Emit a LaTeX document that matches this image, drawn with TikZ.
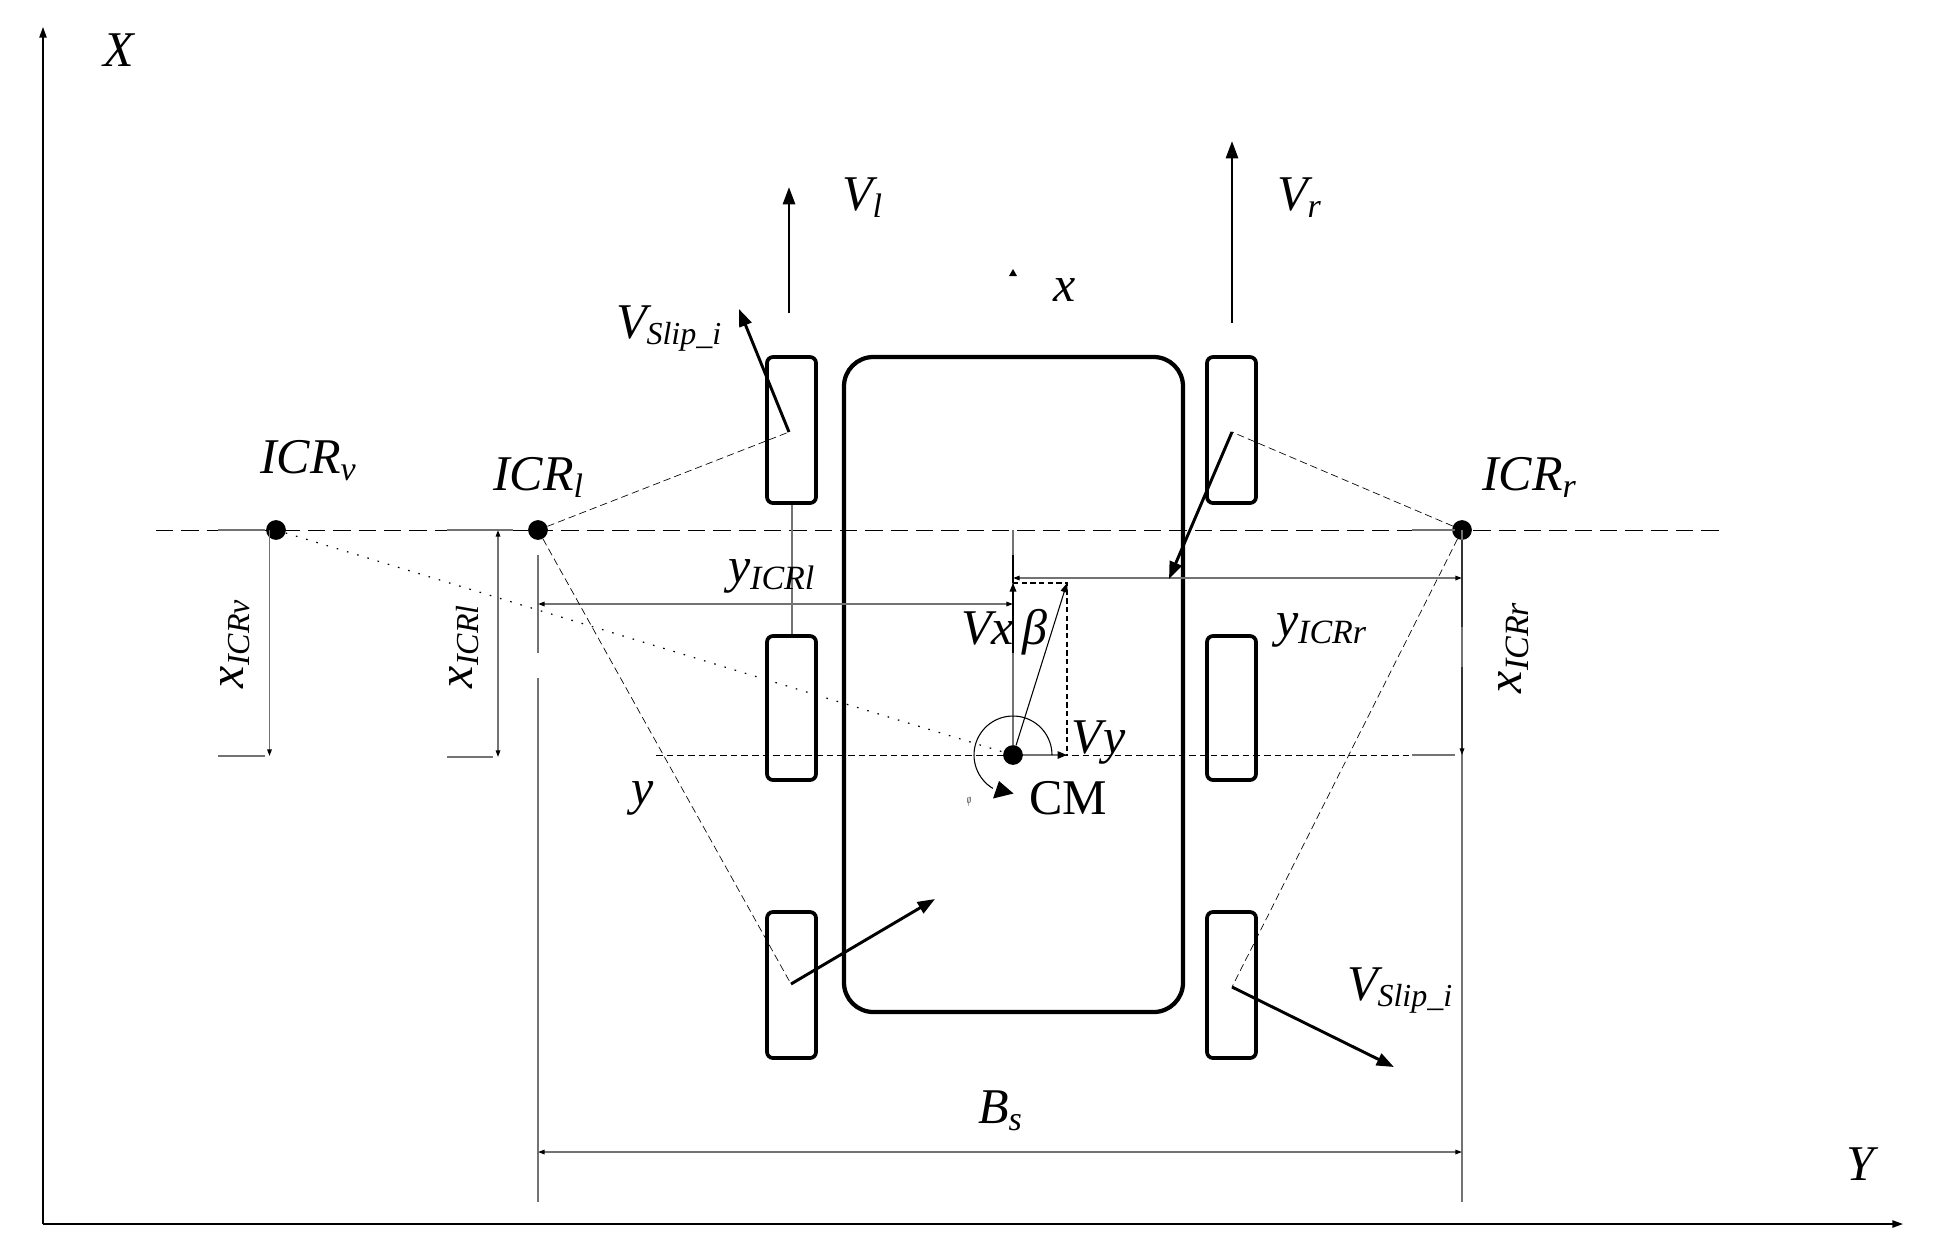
\documentclass[tikz,border=0pt]{standalone}
\usepackage{fontspec}
\setmainfont{Liberation Serif}
\usetikzlibrary{arrows.meta}
\newcommand{\bigtxt}{\fontsize{37.5}{37.5}\selectfont}
\newcommand{\subtxt}{\fontsize{25.5}{25.5}\selectfont}
\newcommand{\subsmall}{\fontsize{24}{24}\selectfont}
\newcommand{\lab}[3][5.5pt]{{\bigtxt\itshape #2}\raisebox{-#1}{\subtxt\itshape #3}}
\newcommand{\labn}[3][5pt]{{\bigtxt\itshape #2}\raisebox{-#1}{\subsmall\itshape #3}}
\tikzset{
  x=0.75pt,y=-0.75pt,
  txt/.style={inner sep=0pt,outer sep=0pt,anchor=base west,font=\bigtxt\itshape},
  axisline/.style={line width=1.1pt,black,-{Triangle[length=8pt,width=5.5pt]}},
  wheelbox/.style={line width=2.8pt,black,rounded corners=4.5pt},
  bodybox/.style={line width=3.2pt,black,rounded corners=22pt},
  dimline/.style={line width=1.05pt,black!55},
  dimboth/.style={dimline,{Triangle[length=5pt,width=3.4pt,black]}-{Triangle[length=5pt,width=3.4pt,black]}},
  dimend/.style={dimline,-{Triangle[length=5pt,width=3.4pt,black]}},
  tick/.style={line width=1.05pt,black!55},
  maindash/.style={line width=.6pt,black,dash pattern=on 13pt off 6pt},
  seconddash/.style={line width=.65pt,black,dash pattern=on 5pt off 3pt},
  raydash/.style={line width=.5pt,black,dash pattern=on 5.5pt off 3pt},
  raydot/.style={line width=.9pt,black,dash pattern=on 1.2pt off 6.8pt},
  velo/.style={line width=2.1pt,black,-{Triangle[length=13pt,width=9pt]}},
  slip/.style={line width=2.2pt,black,-{Triangle[length=13pt,width=9.5pt]}},
  dotnode/.style={circle,fill=black,inner sep=0pt,minimum size=14.8pt},
  thinvec/.style={line width=.8pt,black,-{Triangle[length=7pt,width=5.5pt]}},
}
\begin{document}
\begin{tikzpicture}
\useasboundingbox (0,0) rectangle (1941,1257);
\fill[white] (0,0) rectangle (1941,1257);
% named points
\coordinate (origin) at (43,1224);
\coordinate (axX) at (43,27);
\coordinate (axY) at (1903,1224);
\coordinate (mainL) at (156,530);
\coordinate (mainR) at (1722,530);
\coordinate (secL) at (656,755);
\coordinate (secR) at (1412,755);
\coordinate (wFL) at (789,432);
\coordinate (wFR) at (1232,432);
\coordinate (wRL) at (791,984);
\coordinate (wRR) at (1232,987);
\coordinate (corner) at (1067,583);
\coordinate (vxTop) at (1013,583);
\coordinate (vyEnd) at (1067,755);

% axes
\draw[axisline] (origin) -- (axX);
\draw[axisline] (origin) -- (axY);

% reference lines
\draw[maindash] (mainL) -- (mainR);
\draw[seconddash] (secL) -- (secR);

% wheel link
\draw[dimline] (792,503) -- (792,636);

% body and wheels
\draw[bodybox] (844,357) rectangle (1183,1012);
\draw[wheelbox] (767,357) rectangle (816,503);
\draw[wheelbox] (767,636) rectangle (816,780);
\draw[wheelbox] (767,912) rectangle (816,1058);
\draw[wheelbox] (1207,357) rectangle (1256,503);
\draw[wheelbox] (1207,636) rectangle (1256,780);
\draw[wheelbox] (1207,912) rectangle (1256,1058);

% dots
\node[dotnode] (icrv) at (276,530) {};
\node[dotnode] (icrl) at (538,530) {};
\node[dotnode] (icrr) at (1462,530) {};
\node[dotnode] (cm) at (1013,755) {};

% extension ticks
\draw[tick] (218,530) -- (265,530);
\draw[tick] (218,756) -- (265,756);
\draw[tick] (447,530) -- (513,530);
\draw[tick] (447,757) -- (493,757);
\draw[tick] (1412,530) -- (1455,530);
\draw[tick] (1412,755) -- (1455,755);
\draw[tick] (538,555) -- (538,653);
\draw[tick] (538,678) -- (538,1202);
\draw[tick] (1462,530) -- (1462,1202);

% dimensions
\draw[dimend] (269.5,530) -- (269.5,756);
\draw[dimboth] (498,530) -- (498,757);
\draw[dimboth] (538,604) -- (1013,604);
\draw[dimboth] (1013,578) -- (1462,578);
\draw[dimboth] (538,1152) -- (1462,1152);
\draw[line width=1.05pt,black!80] (1462,540) -- (1462,627);
\draw[line width=1.05pt,black!80,-{Triangle[length=5pt,width=3.4pt,black]}] (1462,667) -- (1462,755);

% rays
\draw[raydash] (icrl) -- (wFL);
\draw[raydash] (icrl) -- (wRL);
\draw[raydash] (icrr) -- (wFR);
\draw[raydash] (icrr) -- (wRR);
\draw[raydot] (icrv) -- (cm);

% wheel velocities
\draw[velo] (789,313) -- (789,187);
\draw[velo] (1232,323) -- (1232,141);
\draw[slip] (wFL) -- (739,309);
\draw[slip] (wFR) -- (1169,579);
\draw[slip] (wRL) -- (935,899);
\draw[slip] (wRR) -- (1394,1067);

% CM vectors
\draw[dimline] (1013,530) -- (cm);
\draw[line width=1.05pt,black,-{Triangle[length=6.5pt,width=5pt]}] (1013,653) -- (vxTop);
\draw[line width=1.05pt,black] (1013,555) -- (vxTop);
\draw[thinvec] (cm) -- (corner);
\draw[dimline,-{Triangle[length=7pt,width=5.5pt,black]}] (cm) -- (vyEnd);
\draw[line width=.8pt,black,dash pattern=on 4pt off 2.5pt] (vxTop) -- (corner) -- (vyEnd);

% angle arc
\draw[line width=.8pt,black] plot[domain=0:239,samples=50] ({1013+39*cos(\x)},{755-39*sin(\x)});
\fill[black] (1013.5,793.5) -- (999,781) -- (993,798.5) -- cycle;

% x arrowhead
\fill[black] (1013,269) -- (1009,276) -- (1017,276) -- cycle;

% labels
\node[txt] (tX) at (103,66) {X};
\node[txt] (tY) at (1846,1180) {Y};
\node[txt] (tVl) at (842,210) {\lab{V}{l}};
\node[txt] (tVr) at (1277,210) {\lab{V}{r}};
\node[txt] (tICRv) at (260,473) {\lab{ICR}{v}};
\node[txt] (tICRl) at (493,490) {\lab{ICR}{l}};
\node[txt] (tICRr) at (1482,490) {\lab{ICR}{r}};
\node[txt] (tSlipL) at (616,338) {\labn{V}{Slip\_i}};
\node[txt] (tSlipR) at (1347,1000) {\labn{V}{Slip\_i}};
\node[txt] (tx) at (1053,301) {x};
\node[txt] (ty) at (631,804) {y};
\node[txt] (tyl) at (728,582) {\lab{y}{ICRl}};
\node[txt] (tyr) at (1276,636) {\lab{y}{ICRr}};
\node[txt] (tVx) at (961,644) {Vx};
\node[txt] (tbeta) at (1022,644) {β};
\node[txt] (tVy) at (1071,753) {V\kern1.5pt y};
\node[txt,font=\bigtxt\upshape] (tCM) at (1029,814) {CM};
\node[txt] (tBs) at (978,1123) {\lab{B}{s}};
\node[txt,rotate=90] (txv) at (243,688) {\labn{x}{ICRv}};
\node[txt,rotate=90] (txl) at (472,688) {\labn{x}{ICRl}};
\node[txt,rotate=90] (txr) at (1521,693) {\lab{x}{ICRr}};
\node[inner sep=0pt,font=\fontsize{10}{10}\selectfont\itshape,xscale=.6,black!75] (tphi) at (969,802) {φ};
\end{tikzpicture}
\end{document}
